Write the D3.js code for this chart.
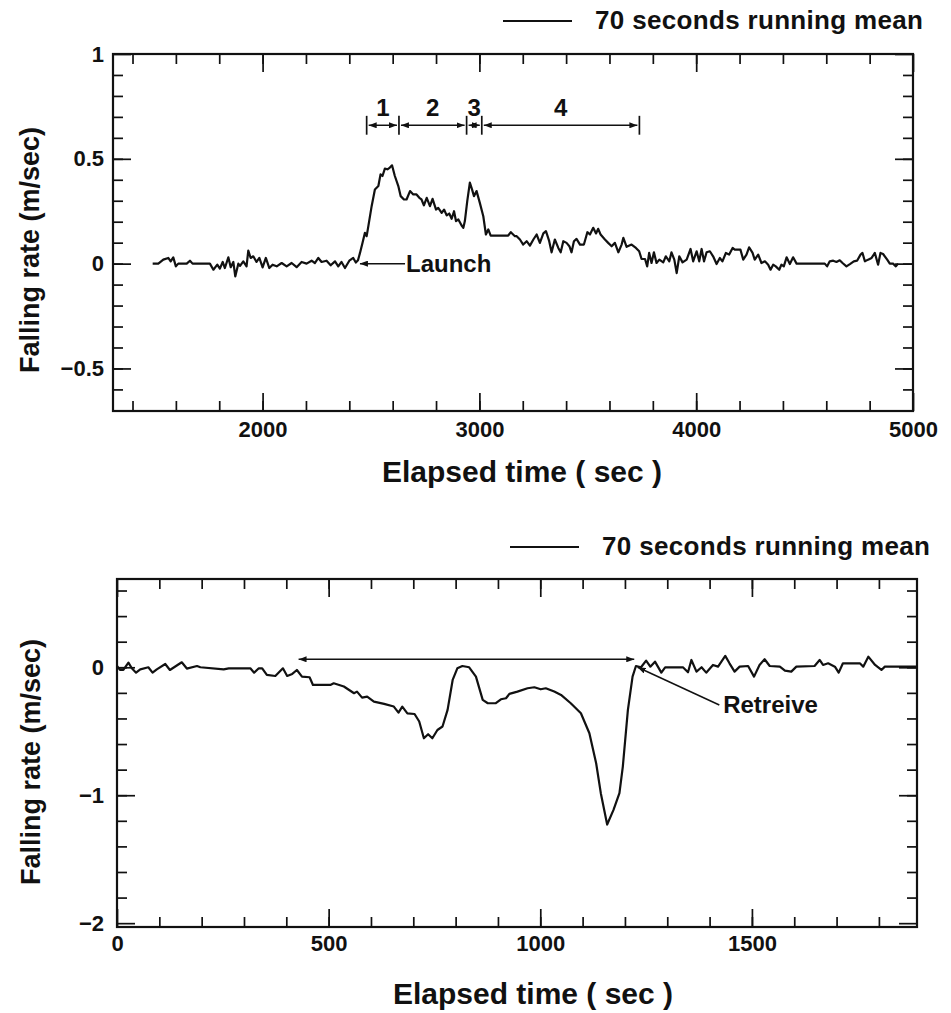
<!DOCTYPE html>
<html>
<head>
<meta charset="utf-8">
<script src="https://cdn.jsdelivr.net/npm/d3@7"></script>
<style>
  body { margin: 0; background: #fff; }
  svg text { font-family: "Liberation Sans", Arial, Helvetica, sans-serif; font-weight: bold; fill: #111; }
</style>
</head>
<body>
<svg id="chart" width="951" height="1013"></svg>
<script>
// upper panel : falling rate around launch (70 s running mean)
var launchTime = [1493, 1519, 1542, 1565, 1576, 1588, 1600, 1611, 1650, 1665, 1677, 1757, 1773, 1791, 1803, 1816, 1826, 1842, 1853, 1865,
  1874, 1888, 1896, 1911, 1926, 1934, 1945, 1957, 1972, 1985, 2000, 2015, 2031, 2046, 2065, 2088, 2111, 2134, 2157, 2180,
  2203, 2226, 2241, 2257, 2272, 2295, 2314, 2334, 2349, 2364, 2380, 2400, 2418, 2430, 2440, 2449, 2461, 2472, 2480, 2488,
  2503, 2518, 2534, 2544, 2553, 2564, 2576, 2587, 2597, 2610, 2626, 2637, 2652, 2664, 2680, 2695, 2710, 2723, 2733, 2744,
  2757, 2772, 2784, 2800, 2810, 2826, 2837, 2849, 2861, 2872, 2883, 2892, 2903, 2918, 2926, 2933, 2944, 2956, 2966, 2975,
  2987, 3002, 3018, 3030, 3041, 3052, 3079, 3133, 3145, 3164, 3172, 3187, 3202, 3218, 3233, 3249, 3264, 3279, 3295, 3307,
  3322, 3333, 3348, 3364, 3375, 3387, 3402, 3415, 3425, 3436, 3448, 3464, 3482, 3498, 3510, 3525, 3538, 3548, 3559, 3579,
  3594, 3610, 3625, 3641, 3656, 3664, 3679, 3702, 3722, 3737, 3748, 3764, 3774, 3783, 3794, 3805, 3817, 3830, 3848, 3860,
  3876, 3886, 3899, 3910, 3922, 3937, 3956, 3974, 3986, 4002, 4014, 4025, 4036, 4048, 4063, 4078, 4094, 4109, 4121, 4137,
  4152, 4168, 4178, 4204, 4217, 4232, 4244, 4260, 4270, 4286, 4301, 4317, 4332, 4343, 4355, 4367, 4383, 4393, 4404, 4417,
  4432, 4447, 4463, 4593, 4604, 4616, 4632, 4647, 4662, 4675, 4693, 4709, 4727, 4742, 4758, 4767, 4778, 4793, 4809, 4824,
  4839, 4850, 4862, 4881, 4893, 4908, 4921, 4931];
var launchRate = [0, 0, 0.019, 0.027, 0.011, 0.03, -0.013, 0, 0, 0.014, 0, 0, -0.029, -0.005, -0.024, 0.008, -0.021, 0.03, -0.017, 0.008,
  -0.061, 0, -0.011, 0.011, -0.013, 0.062, 0.027, 0.035, 0.008, 0.027, -0.018, 0.027, -0.021, -0.005, -0.013, 0.003, -0.013, 0.003, -0.017, 0.008,
  0, 0.014, 0.003, 0.027, 0.008, 0.014, -0.008, 0.011, -0.013, 0.008, -0.021, 0.014, 0.027, 0.005, 0.016, 0.05, 0.1, 0.147, 0.131, 0.18,
  0.274, 0.354, 0.37, 0.426, 0.418, 0.453, 0.45, 0.458, 0.469, 0.418, 0.37, 0.322, 0.306, 0.306, 0.346, 0.33, 0.33, 0.314, 0.306, 0.278,
  0.314, 0.274, 0.309, 0.258, 0.266, 0.242, 0.258, 0.23, 0.239, 0.214, 0.25, 0.203, 0.211, 0.182, 0.171, 0.203, 0.298, 0.386, 0.354, 0.322,
  0.346, 0.29, 0.226, 0.139, 0.163, 0.134, 0.134, 0.134, 0.15, 0.131, 0.131, 0.115, 0.091, 0.107, 0.086, 0.115, 0.139, 0.099, 0.144, 0.155,
  0.107, 0.054, 0.115, 0.075, 0.054, 0.107, 0.099, 0.083, 0.054, 0.107, 0.118, 0.091, 0.091, 0.15, 0.139, 0.171, 0.144, 0.166, 0.139, 0.115,
  0.099, 0.083, 0.099, 0.054, 0.091, 0.123, 0.08, 0.091, 0.075, 0.059, 0.022, 0.022, -0.013, 0.051, 0.003, 0.054, 0.003, 0.019, 0.006, 0.035,
  0.011, 0.054, 0.019, -0.045, 0.035, 0.006, 0.019, 0.07, 0.011, 0.059, 0.011, 0.07, 0.011, 0.054, 0.059, 0.035, -0.002, 0.027, 0.011, 0.051,
  0.043, 0.075, 0.067, 0.067, 0.019, 0.043, 0.078, 0.051, 0.019, 0.043, 0.003, 0.011, -0.005, -0.029, -0.005, -0.013, -0.029, -0.005, -0.013, 0.03,
  -0.002, 0.03, 0, 0, -0.013, 0.011, 0.014, 0.008, 0.016, 0.003, -0.013, -0.002, 0.011, 0.014, 0.043, 0.051, 0.011, 0.019, 0.027, 0.051,
  -0.005, 0.051, 0.046, 0.019, 0, 0, -0.013, 0];
var launchXTicks = [2000, 3000, 4000, 5000];
var launchYTicks = [-0.5, 0, 0.5, 1];
var phaseBounds = [2480, 2629, 2941, 3011, 3738];
var phaseLabels = ["1", "2", "3", "4"];

// lower panel : falling rate around retrieval
var retrieveTime = [0, 7, 15, 27, 35, 45, 55, 74, 84, 94, 114, 125, 153, 165, 189, 197, 252, 264, 315, 324,
  335, 343, 354, 374, 392, 402, 414, 425, 437, 455, 463, 504, 512, 536, 560, 567, 579, 591, 607, 631,
  654, 665, 674, 686, 703, 714, 725, 735, 745, 757, 769, 781, 793, 804, 816, 832, 848, 864, 876, 895,
  907, 919, 927, 946, 970, 986, 1001, 1013, 1033, 1049, 1072, 1096, 1116, 1132, 1143, 1158, 1173, 1187, 1195, 1207,
  1218, 1226, 1238, 1250, 1260, 1271, 1286, 1295, 1337, 1349, 1357, 1369, 1381, 1392, 1408, 1420, 1437, 1447, 1459, 1471,
  1491, 1505, 1518, 1530, 1542, 1566, 1578, 1593, 1605, 1648, 1660, 1668, 1680, 1696, 1705, 1715, 1755, 1763, 1775, 1791,
  1806, 1814, 1890];
var retrieveRate = [0.01, -0.02, -0.02, 0.036, -0.008, -0.042, -0.016, 0, -0.042, -0.016, 0.026, -0.021, 0.039, -0.01, 0.01, 0, -0.016, -0.008, -0.008, -0.042,
  -0.008, -0.008, -0.06, -0.068, -0.008, -0.068, -0.052, -0.021, -0.073, -0.078, -0.138, -0.138, -0.125, -0.15, -0.203, -0.19, -0.237, -0.229, -0.268, -0.286,
  -0.307, -0.354, -0.307, -0.36, -0.365, -0.424, -0.555, -0.523, -0.555, -0.49, -0.463, -0.333, -0.099, -0.008, 0.01, 0, -0.073, -0.255, -0.281, -0.281,
  -0.25, -0.242, -0.208, -0.19, -0.164, -0.156, -0.172, -0.164, -0.19, -0.216, -0.281, -0.359, -0.516, -0.75, -0.984, -1.229, -1.115, -0.984, -0.776, -0.333,
  -0.073, 0.01, 0, 0.052, 0.005, 0.044, -0.042, 0, 0, -0.039, 0.057, -0.034, 0, -0.042, 0.018, 0.005, 0.089, 0.031, -0.034, 0.005,
  0.01, -0.073, 0.018, 0.063, 0.01, 0.005, -0.026, -0.034, 0.005, 0.01, 0.057, 0.018, 0.031, 0.005, -0.042, 0.031, 0.031, 0.005, 0.083, 0.018,
  -0.021, 0.005, 0.005];
var retrieveXTicks = [0, 500, 1000, 1500];
var retrieveYTicks = [-2, -1, 0];
var retrieveSpan = [429, 1222];

var svg = d3.select("#chart");
var ink = "#111";

var defs = svg.append("defs");
defs.append("marker")
    .attr("id", "head")
    .attr("viewBox", "0 0 10 10")
    .attr("refX", 10).attr("refY", 5)
    .attr("markerWidth", 8).attr("markerHeight", 6)
    .attr("markerUnits", "userSpaceOnUse")
    .attr("preserveAspectRatio", "none")
    .attr("orient", "auto-start-reverse")
  .append("path")
    .attr("d", "M0,0L10,5L0,10Z")
    .attr("fill", ink);

// one framed panel with inward ticks on all four sides
function drawPanel(p) {
  var x = d3.scaleLinear().domain(p.xDomain).range([p.left, p.right]);
  var y = d3.scaleLinear().domain(p.yDomain).range([p.bottom, p.top]);
  var g = svg.append("g");

  function tickRow(axis, tx, ty, values, size, fmt) {
    var a = g.append("g")
      .attr("transform", "translate(" + tx + "," + ty + ")")
      .call(axis.tickValues(values).tickSize(-size).tickPadding(p.pad).tickFormat(fmt || ""));
    a.select(".domain").remove();
    a.selectAll("line").attr("stroke", ink).attr("stroke-width", 1.7);
    a.attr("font-size", 22).attr("font-family", null).attr("color", ink);
    return a;
  }
  var fmt = d3.format("~g");

  tickRow(d3.axisBottom(x), 0, p.bottom, p.xMinor, 10);
  tickRow(d3.axisTop(x), 0, p.top, p.xMinor, 10);
  tickRow(d3.axisLeft(y), p.left, 0, p.yMinor, 10);
  tickRow(d3.axisRight(y), p.right, 0, p.yMinor, 10);

  tickRow(d3.axisBottom(x), 0, p.bottom, p.xTicks, 18, d3.format("d"));
  tickRow(d3.axisTop(x), 0, p.top, p.xTicks, 18);
  var yl = tickRow(d3.axisLeft(y), p.left, 0, p.yTicks, 18, fmt);
  yl.selectAll("text").attr("x", -p.yPad);
  tickRow(d3.axisRight(y), p.right, 0, p.yTicks, 18);

  g.append("rect")
    .attr("x", p.left).attr("y", p.top)
    .attr("width", p.right - p.left).attr("height", p.bottom - p.top)
    .attr("fill", "none").attr("stroke", ink).attr("stroke-width", 2.2);

  var line = d3.line()
    .x(function(d) { return x(d[0]); })
    .y(function(d) { return y(d[1]); });

  g.append("path")
    .datum(d3.zip(p.time, p.rate))
    .attr("d", line)
    .attr("fill", "none")
    .attr("stroke", ink)
    .attr("stroke-width", 2.2)
    .attr("stroke-linejoin", "round");

  // legend above the frame
  g.append("line")
    .attr("x1", p.legendX).attr("x2", p.legendX + 69)
    .attr("y1", p.legendY - 8).attr("y2", p.legendY - 8)
    .attr("stroke", ink).attr("stroke-width", 2);
  g.append("text")
    .attr("x", p.legendX + 92).attr("y", p.legendY)
    .attr("font-size", 26)
    .attr("textLength", 328).attr("lengthAdjust", "spacing")
    .text("70 seconds running mean");

  g.append("text")
    .attr("transform", "translate(" + p.yTitleX + "," + p.yTitleY + ") rotate(-90)")
    .attr("text-anchor", "middle")
    .attr("font-size", 27)
    .text("Falling rate (m/sec)");

  g.append("text")
    .attr("x", p.xTitleX).attr("y", p.xTitleY)
    .attr("text-anchor", "middle")
    .attr("font-size", 30)
    .text("Elapsed time ( sec )");

  return { g: g, x: x, y: y };
}

var upper = drawPanel({
  left: 113, right: 913, top: 54, bottom: 411,
  xDomain: [1310, 5000], yDomain: [-0.703, 1],
  xTicks: launchXTicks, yTicks: launchYTicks,
  xMinor: d3.range(1400, 5000, 200), yMinor: d3.range(-6, 10).map(function(i) { return i / 10; }),
  pad: 10, yPad: 9,
  time: launchTime, rate: launchRate,
  legendX: 503, legendY: 29,
  yTitleX: 39, yTitleY: 250,
  xTitleX: 522, xTitleY: 482
});

var lower = drawPanel({
  left: 117, right: 917, top: 579, bottom: 927,
  xDomain: [0, 1890], yDomain: [-2.03, 0.69],
  xTicks: retrieveXTicks, yTicks: retrieveYTicks,
  xMinor: d3.range(100, 1900, 100), yMinor: d3.range(-9, 4).map(function(i) { return i / 5; }),
  pad: 8, yPad: 13,
  time: retrieveTime, rate: retrieveRate,
  legendX: 510, legendY: 555,
  yTitleX: 40, yTitleY: 762,
  xTitleX: 533, xTitleY: 1004
});

// phase markers 1-4 over the launch peak
var tx = upper.x, ty = upper.y;
upper.g.selectAll(".bar").data(phaseBounds).enter().append("line")
  .attr("x1", function(d) { return tx(d); }).attr("x2", function(d) { return tx(d); })
  .attr("y1", ty(0.615)).attr("y2", ty(0.705))
  .attr("stroke", ink).attr("stroke-width", 1.7);

upper.g.selectAll(".phase").data(d3.pairs(phaseBounds)).enter().append("line")
  .attr("x1", function(d) { return tx(d[0]) + 2; })
  .attr("x2", function(d) { return tx(d[1]) - 2; })
  .attr("y1", ty(0.66)).attr("y2", ty(0.66))
  .attr("stroke", ink).attr("stroke-width", 1.5)
  .attr("marker-start", "url(#head)").attr("marker-end", "url(#head)");

upper.g.selectAll(".plabel").data(d3.pairs(phaseBounds)).enter().append("text")
  .attr("x", function(d) { return (tx(d[0]) + tx(d[1])) / 2; })
  .attr("y", ty(0.702))
  .attr("text-anchor", "middle")
  .attr("font-size", 24)
  .text(function(d, i) { return phaseLabels[i]; });

// launch arrow
upper.g.append("line")
  .attr("x1", tx(2657)).attr("y1", ty(0))
  .attr("x2", tx(2449)).attr("y2", ty(0))
  .attr("stroke", ink).attr("stroke-width", 1.5)
  .attr("marker-end", "url(#head)");
upper.g.append("text")
  .attr("x", tx(2657) + 1).attr("y", ty(0) + 8)
  .attr("font-size", 24)
  .text("Launch");

// retrieval span and arrow
var bx = lower.x, by = lower.y;
lower.g.append("line")
  .attr("x1", bx(retrieveSpan[0])).attr("x2", bx(retrieveSpan[1]))
  .attr("y1", by(0.0625)).attr("y2", by(0.0625))
  .attr("stroke", ink).attr("stroke-width", 1.5)
  .attr("marker-start", "url(#head)").attr("marker-end", "url(#head)");

lower.g.append("line")
  .attr("x1", bx(1423)).attr("y1", by(-0.295))
  .attr("x2", bx(1230)).attr("y2", by(0))
  .attr("stroke", ink).attr("stroke-width", 1.5)
  .attr("marker-end", "url(#head)");
lower.g.append("text")
  .attr("x", bx(1432)).attr("y", by(-0.357))
  .attr("font-size", 24)
  .text("Retreive");
</script>
</body>
</html>
